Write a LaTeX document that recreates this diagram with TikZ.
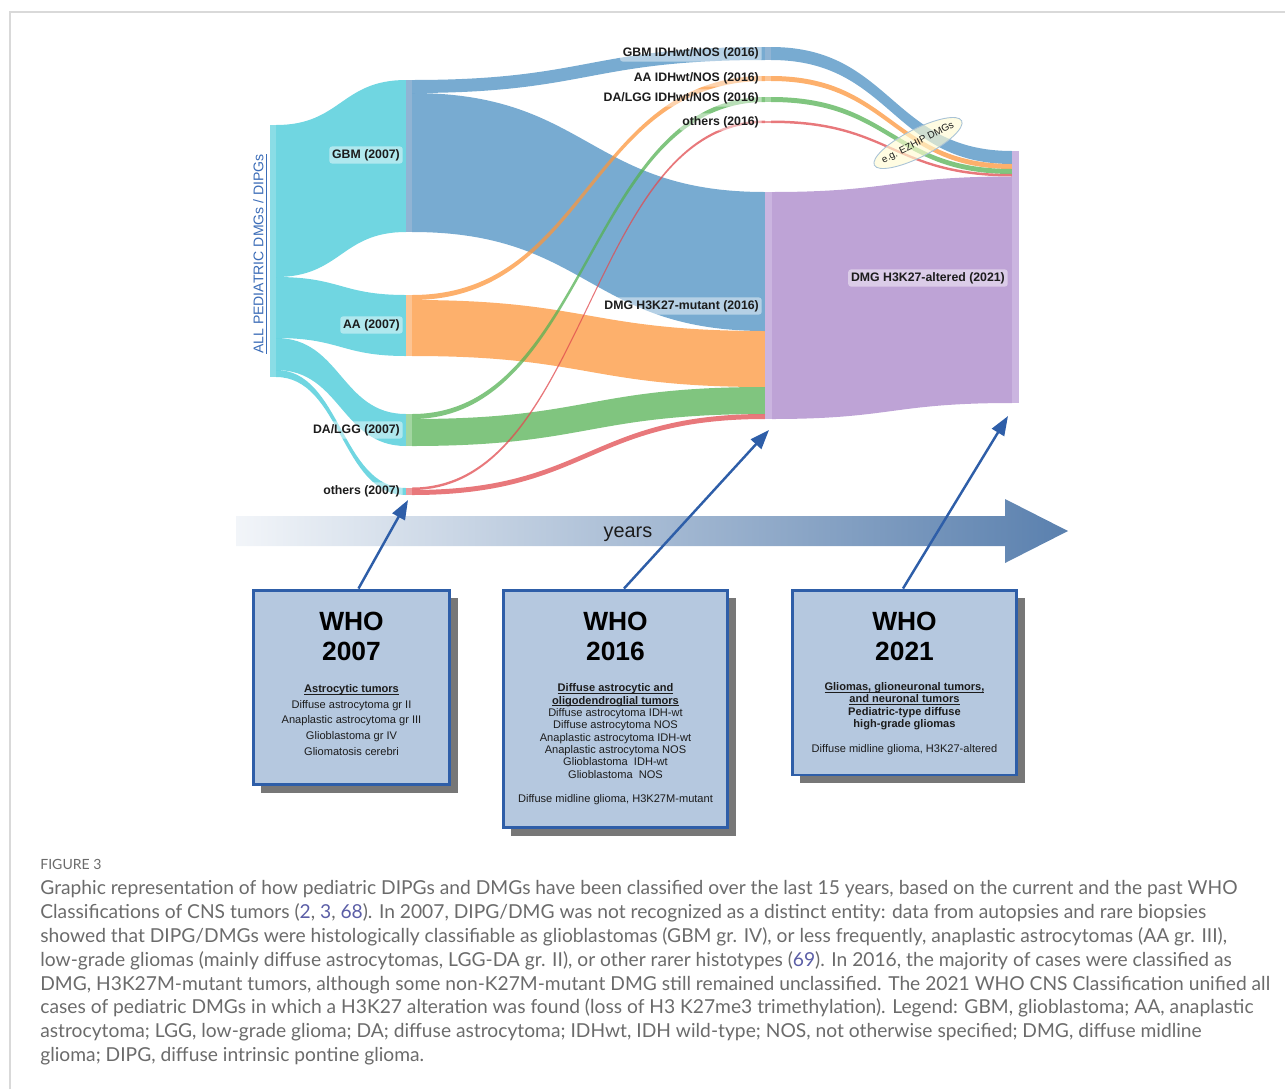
\documentclass[tikz,border=0pt]{standalone}
\usepackage{fontspec}
\setmainfont{Liberation Sans}
\newfontfamily\capfont{Lato}
\usepackage{xcolor}
\usepackage{tikz}
\usetikzlibrary{positioning,calc,arrows.meta,shapes.geometric,shadows}
% flow colours (drawn at 75% over white)
\definecolor{cyanflow}{HTML}{40C8D7}
\definecolor{blueflow}{HTML}{4B8FC2}
\definecolor{orangeflow}{HTML}{FC963B}
\definecolor{greenflow}{HTML}{56B254}
\definecolor{redflow}{HTML}{E04B4F}
\definecolor{purpleflow}{HTML}{A884C8}
% node bars
\definecolor{cyanbar}{HTML}{8ADDE6}
\definecolor{bluebar}{HTML}{90B4D4}
\definecolor{orangebar}{HTML}{FDC493}
\definecolor{greenbar}{HTML}{A2D6A1}
\definecolor{redbar}{HTML}{EE9A9C}
\definecolor{purplebar}{HTML}{CBB5E0}
% boxes and text
\definecolor{whoedge}{HTML}{2E5EA8}
\definecolor{whofill}{HTML}{B5C8DF}
\definecolor{shadowgray}{HTML}{777777}
\definecolor{allblue}{HTML}{3B6CB7}
\definecolor{yearslight}{HTML}{F2F5F9}
\definecolor{yearsdark}{HTML}{5A80AE}
\definecolor{ezfill}{HTML}{FFFBD2}
\definecolor{ezedge}{HTML}{A8C2D6}
\definecolor{inkdark}{HTML}{1C1C1C}
\definecolor{capgray}{HTML}{6B6B6B}
\definecolor{refblue}{HTML}{5B5EA6}
\definecolor{framegray}{HTML}{D9D9D9}

% one band of the sankey: x1, top1, bottom1, x2, top2, bottom2, colour
\newcommand{\sankeyflow}[7]{%
  \pgfmathsetmacro{\sxmid}{(#1+#4)/2}%
  \fill[flowband=#7] (#1,#2) .. controls (\sxmid,#2) and (\sxmid,#5) .. (#4,#5)
    -- (#4,#6) .. controls (\sxmid,#6) and (\sxmid,#3) .. (#1,#3) -- cycle;}
% body text of the boxes: fixed line pitch
\newcommand{\boxtext}[1]{\fontsize{6.3}{#1}\selectfont\setlength{\lineskiplimit}{-6pt}}
% underline sitting just under the baseline
\newcommand{\boxuline}[1]{\setbox0\hbox{#1}\rlap{\rule[-1.1pt]{\wd0}{0.35pt}}\copy0}

\tikzset{
  flowband/.style={fill=#1, fill opacity=0.75, draw=none},
  nodebar/.style={fill=#1, draw=none},
  lbl/.style={font=\fontsize{7}{8}\selectfont\bfseries, text=inkdark, fill=white, fill opacity=0.45,
    text opacity=1, rounded corners=1.5pt, inner sep=1.6pt, anchor=east},
  whobox/.style={draw=whoedge, line width=1.7pt, fill=whofill,
    drop shadow={shadow xshift=0.16cm, shadow yshift=-0.16cm, fill=shadowgray, opacity=1}},
  whotitle/.style={font=\fontsize{15}{17}\selectfont\bfseries, align=center, text=black, inner sep=0pt},
  whobody/.style={font={\boxtext{7.03}}, align=center, text=inkdark, inner sep=0pt},
  pointer/.style={draw=whoedge, line width=1.4pt, -{Triangle[length=11pt,width=8pt]}},
  ezhip/.style={ellipse, draw=ezedge, line width=0.5pt, fill=ezfill, fill opacity=0.65,
    minimum width=1.96cm, minimum height=0.56cm, inner sep=0pt},
  eztext/.style={font=\fontsize{5.6}{6}\selectfont, text=inkdark, inner sep=0pt},
  capstyle/.style={font=\capfont\fontsize{10.94}{13.6}\selectfont, text=capgray, align=left, inner sep=0pt},
}

\begin{document}
\begin{tikzpicture}[x=0.02cm, y=-0.02cm]
  \useasboundingbox (0,0) rectangle (1285,1089);
  \draw[framegray, line width=1pt] (10,1089) -- (10,12) -- (1285,12);

  % ==========================================
  % SANKEY FLOWS
  % ==========================================
  % all cases -> 2007
  \sankeyflow{276}{125}{277}{406}{80}{232}{cyanflow}
  \sankeyflow{276}{277}{338}{406}{295}{356}{cyanflow}
  \sankeyflow{276}{338}{370}{406}{414}{446}{cyanflow}
  \sankeyflow{276}{370}{377}{406}{488}{495}{cyanflow}

  % 2007 -> 2016 (wide bands first, thin ones on top)
  \sankeyflow{412}{80}{93}{765}{47}{60}{blueflow}
  \sankeyflow{412}{93}{232}{765}{192}{331}{blueflow}
  \sankeyflow{412}{300}{356}{765}{331}{387}{orangeflow}
  \sankeyflow{412}{419}{446}{765}{387}{414}{greenflow}
  \sankeyflow{412}{490}{495}{765}{414}{419}{redflow}
  \sankeyflow{412}{295}{300}{765}{76}{81}{orangeflow}
  \sankeyflow{412}{414}{419}{765}{97}{102}{greenflow}
  \sankeyflow{412}{487.5}{490}{765}{120.5}{123}{redflow}

  % 2016 -> 2021
  \sankeyflow{771}{47}{60}{1012}{151}{164}{blueflow}
  \sankeyflow{771}{76}{81}{1012}{164}{169}{orangeflow}
  \sankeyflow{771}{97}{102}{1012}{169}{174}{greenflow}
  \sankeyflow{771}{120.5}{123}{1012}{174}{176.5}{redflow}
  \sankeyflow{772}{192}{419}{1012}{176.5}{403}{purpleflow}

  % node bars
  \fill[nodebar=cyanbar] (270,125) rectangle (276,377);
  \fill[nodebar=bluebar] (406,80) rectangle (412,232);
  \fill[nodebar=orangebar] (406,295) rectangle (412,356);
  \fill[nodebar=greenbar] (406,414) rectangle (412,446);
  \fill[nodebar=redbar] (406,487.5) rectangle (412,495);
  \fill[nodebar=bluebar] (765,47) rectangle (771,60);
  \fill[nodebar=orangebar] (765,76) rectangle (771,81);
  \fill[nodebar=greenbar] (765,97) rectangle (771,102);
  \fill[nodebar=redbar] (765,120.5) rectangle (771,123);
  \fill[nodebar=purplebar] (765,192) rectangle (772,419);
  \fill[nodebar=purplebar] (1012,151) rectangle (1019,403);

  % ==========================================
  % LABELS
  % ==========================================
  \node[rotate=90, font=\fontsize{8}{9}\selectfont, text=allblue, inner sep=0pt] (allcases) at (260,254)
    {\underline{ALL PEDIATRIC DMGs / DIPGs}};

  \node[lbl] (lgbm07) at (403,155) {GBM (2007)};
  \node[lbl] (laa07) at (403,325) {AA (2007)};
  \node[lbl] (lda07) at (403,430) {DA/LGG (2007)};
  \node[lbl] (loth07) at (403,491) {others (2007)};

  \node[lbl] (lgbm16) at (762,53) {GBM IDHwt/NOS (2016)};
  \node[lbl] (laa16) at (762,78) {AA IDHwt/NOS (2016)};
  \node[lbl] (lda16) at (762,98) {DA/LGG IDHwt/NOS (2016)};
  \node[lbl] (loth16) at (762,122) {others (2016)};
  \node[lbl] (ldmg16) at (762,306) {DMG H3K27-mutant (2016)};
  \node[lbl] (ldmg21) at (1008,278) {DMG H3K27-altered (2021)};

  \node[ezhip, rotate=27] (ezhip) at (918,143) {};
  \node[eztext, rotate=27] (ezlabel) at (ezhip.center) {e.g. EZHIP DMGs};

  % ==========================================
  % TIME AXIS
  % ==========================================
  \shade[left color=yearslight, right color=yearsdark]
    (236,516) -- (1005,516) -- (1005,499) -- (1068,531) -- (1005,563) -- (1005,546) -- (236,546) -- cycle;
  \node[font=\fontsize{11.3}{12}\selectfont, text=inkdark] (years) at (628,534) {years};

  % ==========================================
  % WHO BOXES
  % ==========================================
  \node[whobox, minimum width=3.94cm, minimum height=3.9cm] (who07) at (351.5,687.5) {};
  \node[whobox, minimum width=4.5cm, minimum height=4.76cm] (who16) at (615.5,709) {};
  \node[whobox, minimum width=4.5cm, minimum height=3.7cm] (who21) at (904.5,682.5) {};

  \node[whotitle] (t07) at ($(who07.north)+(0,48)$) {WHO\\2007};
  \node[whotitle] (t16) at ($(who16.north)+(0,48)$) {WHO\\2016};
  \node[whotitle] (t21) at ($(who21.north)+(0,48)$) {WHO\\2021};

  \node[whobody, font={\boxtext{8.9}}] (b07) at ($(who07.north)+(0,131.5)$)
    {\textbf{\boxuline{Astrocytic tumors}}\\ Diffuse astrocytoma gr II\\ Anaplastic astrocytoma gr III\\
     Glioblastoma gr IV\\ Gliomatosis cerebri};
  \node[whobody] (b16) at ($(who16.north)+(0,156)$)
    {\textbf{\boxuline{Diffuse astrocytic and}}\\ \textbf{\boxuline{oligodendroglial tumors}}\\
     Diffuse astrocytoma IDH-wt\\ Diffuse astrocytoma NOS\\ Anaplastic astrocytoma IDH-wt\\
     Anaplastic astrocytoma NOS\\ Glioblastoma~ IDH-wt\\ Glioblastoma~ NOS\\[7.03pt]
     Diffuse midline glioma, H3K27M-mutant};
  \node[whobody] (b21) at ($(who21.north)+(0,130)$)
    {\textbf{\boxuline{Gliomas, glioneuronal tumors,}}\\ \textbf{\boxuline{and neuronal tumors}}\\
     \textbf{Pediatric-type diffuse}\\ \textbf{high-grade gliomas}\\[7.03pt]
     Diffuse midline glioma, H3K27-altered};

  % pointers from the boxes to the columns
  \coordinate (tip07) at (408,500);
  \coordinate (tip16) at (769,430);
  \coordinate (tip21) at (1008,416);
  \draw[pointer] ($(who07.north)+(7,0)$) -- (tip07);
  \draw[pointer] ($(who16.north)+(8.5,0)$) -- (tip16);
  \draw[pointer] ($(who21.north)+(-1.5,0)$) -- (tip21);

  % ==========================================
  % CAPTION
  % ==========================================
  \node[capstyle, font=\capfont\fontsize{8}{9}\selectfont, anchor=west] (figno) at (40,864) {FIGURE 3};
  \node[capstyle, anchor=north west] (caption) at (40,880)
    {Graphic representation of how pediatric DIPGs and DMGs have been classified over the last 15 years, based on the current and the past WHO\\
     Classifications of CNS tumors (\textcolor{refblue}{2}, \textcolor{refblue}{3}, \textcolor{refblue}{68}). In 2007, DIPG/DMG was not recognized as a distinct entity: data from autopsies and rare biopsies\\
     showed that DIPG/DMGs were histologically classifiable as glioblastomas (GBM gr. IV), or less frequently, anaplastic astrocytomas (AA gr. III),\\
     low-grade gliomas (mainly diffuse astrocytomas, LGG-DA gr. II), or other rarer histotypes (\textcolor{refblue}{69}). In 2016, the majority of cases were classified as\\
     DMG, H3K27M-mutant tumors, although some non-K27M-mutant DMG still remained unclassified. The 2021 WHO CNS Classification unified all\\
     cases of pediatric DMGs in which a H3K27 alteration was found (loss of H3 K27me3 trimethylation). Legend: GBM, glioblastoma; AA, anaplastic\\
     astrocytoma; LGG, low-grade glioma; DA; diffuse astrocytoma; IDHwt, IDH wild-type; NOS, not otherwise specified; DMG, diffuse midline\\
     glioma; DIPG, diffuse intrinsic pontine glioma.};
\end{tikzpicture}
\end{document}
